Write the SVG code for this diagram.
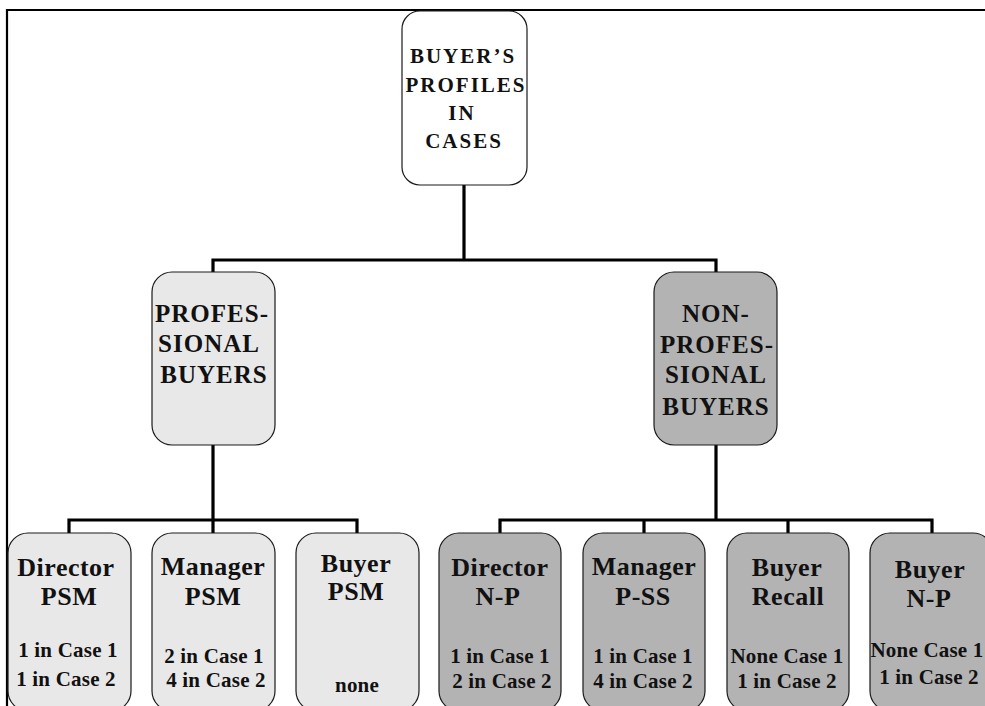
<svg xmlns="http://www.w3.org/2000/svg" width="985" height="706" viewBox="0 0 985 706">
<style>
.frame{fill:none;stroke:#000;stroke-width:2.2}
.box{stroke:#1a1a1a;stroke-width:1.2}
.white{fill:#ffffff}
.light{fill:#e8e8e8}
.dark{fill:#b3b3b3}
.conn{fill:none;stroke:#000;stroke-width:3.2;stroke-linecap:butt;stroke-linejoin:miter}
text{font-family:"Liberation Serif","Times New Roman",serif;font-weight:bold;fill:#111;text-anchor:middle}
.t0{font-size:21px;letter-spacing:2px}
.t1{font-size:25px;letter-spacing:1px}
.t2{font-size:26px;letter-spacing:0.5px}
.t3{font-size:21px;letter-spacing:0.2px}
</style>
<rect width="985" height="706" fill="#ffffff"/>
<path class="frame" d="M7,706 V10 H985"/>

<g id="connectors">
<path class="conn" d="M464,185 V260 M213,260 H716 M213,258.4 V272 M716,258.4 V272"/>
<path class="conn" d="M213,445 V520 M69,520 H357 M69,518.4 V533 M213,520 V533 M357,518.4 V533"/>
<path class="conn" d="M716,445 V520 M500,520 H932 M500,518.4 V533 M644,520 V533 M788,520 V533 M932,518.4 V533"/>
</g>

<g id="root">
<rect class="box white" x="402" y="11" width="125" height="174" rx="18"/>
<text class="t0" x="463" y="63">BUYER’S</text>
<text class="t0" x="466" y="92">PROFILES</text>
<text class="t0" x="462" y="120">IN</text>
<text class="t0" x="464" y="148">CASES</text>
</g>

<g id="professional">
<rect class="box light" x="152" y="272" width="123" height="173" rx="20"/>
<text class="t1" x="212" y="322">PROFES-</text>
<text class="t1" x="209" y="352">SIONAL</text>
<text class="t1" x="214" y="383">BUYERS</text>
</g>

<g id="nonprofessional">
<rect class="box dark" x="654" y="272" width="123" height="173" rx="20"/>
<text class="t1" x="716" y="322">NON-</text>
<text class="t1" x="717" y="353">PROFES-</text>
<text class="t1" x="716" y="383">SIONAL</text>
<text class="t1" x="716" y="415">BUYERS</text>
</g>

<g id="director-psm">
<rect class="box light" x="8" y="533" width="123" height="178" rx="20"/>
<text class="t2" x="66" y="576">Director</text>
<text class="t2" x="69" y="605">PSM</text>
<text class="t3" x="68" y="657">1 in Case 1</text>
<text class="t3" x="66" y="686">1 in Case 2</text>
</g>

<g id="manager-psm">
<rect class="box light" x="152" y="533" width="123" height="178" rx="20"/>
<text class="t2" x="213" y="575">Manager</text>
<text class="t2" x="213" y="605">PSM</text>
<text class="t3" x="214" y="663">2 in Case 1</text>
<text class="t3" x="216" y="687">4 in Case 2</text>
</g>

<g id="buyer-psm">
<rect class="box light" x="296" y="533" width="123" height="178" rx="20"/>
<text class="t2" x="356" y="572">Buyer</text>
<text class="t2" x="356" y="600">PSM</text>
<text class="t3" x="357" y="692">none</text>
</g>

<g id="director-np">
<rect class="box dark" x="439" y="533" width="122" height="178" rx="20"/>
<text class="t2" x="500" y="576">Director</text>
<text class="t2" x="498" y="605">N-P</text>
<text class="t3" x="500" y="663">1 in Case 1</text>
<text class="t3" x="502" y="688">2 in Case 2</text>
</g>

<g id="manager-pss">
<rect class="box dark" x="583" y="533" width="122" height="178" rx="20"/>
<text class="t2" x="644" y="575">Manager</text>
<text class="t2" x="643" y="605">P-SS</text>
<text class="t3" x="643" y="663">1 in Case 1</text>
<text class="t3" x="643" y="688">4 in Case 2</text>
</g>

<g id="buyer-recall">
<rect class="box dark" x="727" y="533" width="122" height="178" rx="20"/>
<text class="t2" x="787" y="576">Buyer</text>
<text class="t2" x="788" y="605">Recall</text>
<text class="t3" x="787" y="663">None Case 1</text>
<text class="t3" x="787" y="688">1 in Case 2</text>
</g>

<g id="buyer-np">
<rect class="box dark" x="870" y="533" width="123" height="178" rx="20"/>
<text class="t2" x="930" y="578">Buyer</text>
<text class="t2" x="929" y="607">N-P</text>
<text class="t3" x="927" y="657">None Case 1</text>
<text class="t3" x="929" y="684">1 in Case 2</text>
</g>
</svg>
